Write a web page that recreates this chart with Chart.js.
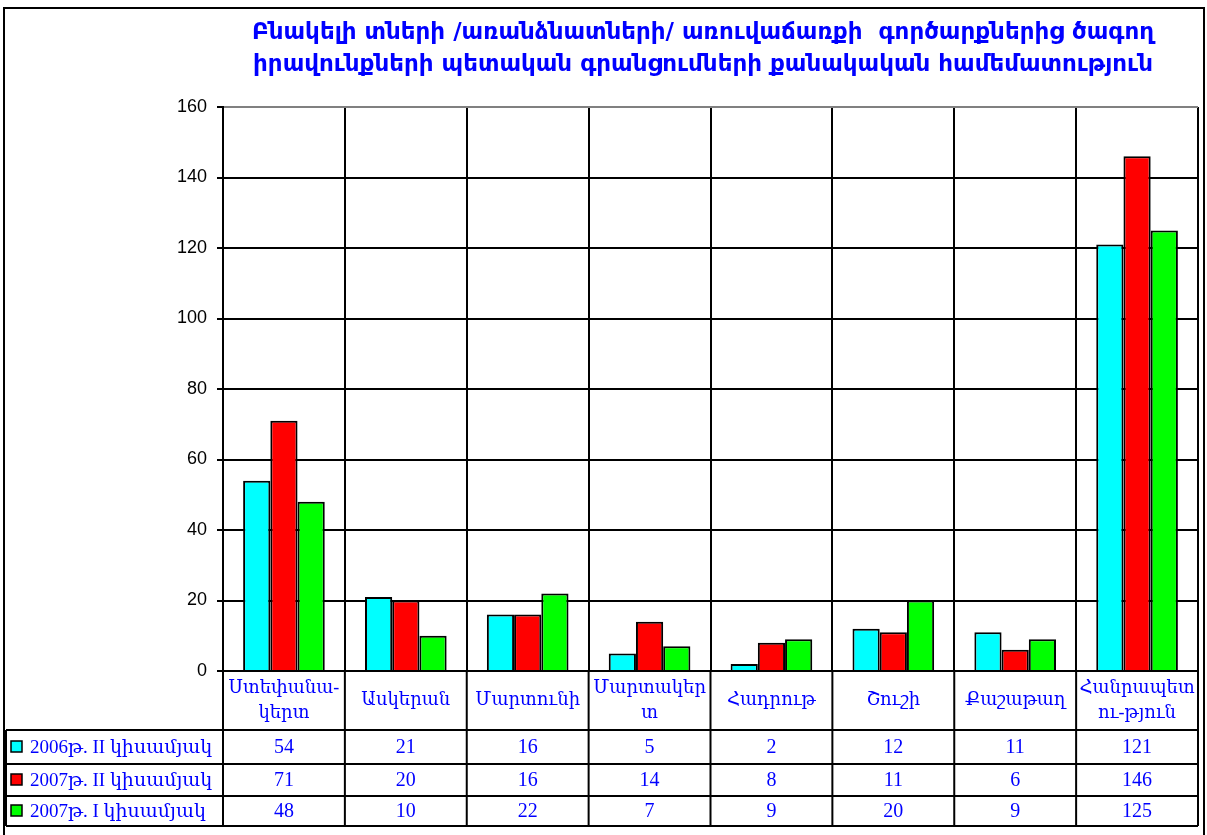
<!DOCTYPE html>
<html>
<head>
<meta charset="utf-8">
<script src="https://cdn.jsdelivr.net/npm/chart.js@4"></script>
<style>
  html, body { margin: 0; padding: 0; background: #fff; }
  canvas { display: block; }
</style>
</head>
<body>
<canvas id="chart" width="1207" height="835"></canvas>
<script>
const titleLines = [
  "Բնակելի տների /առանձնատների/ առուվաճառքի  գործարքներից ծագող",
  "իրավունքների պետական գրանցումների քանակական համեմատություն",
];
const categories = [
  ["Ստեփանա-", "կերտ"],
  ["Ասկերան"],
  ["Մարտունի"],
  ["Մարտակեր", "տ"],
  ["Հադրութ"],
  ["Շուշի"],
  ["Քաշաթաղ"],
  ["Հանրապետ", "ու-թյուն"],
];
const seriesNames = ["2006թ. II կիսամյակ", "2007թ. II կիսամյակ", "2007թ. I կիսամյակ"];
const seriesColors = ["#00ffff", "#ff0000", "#00ff00"];
const values2006II = [54, 21, 16, 5, 2, 12, 11, 121];
const values2007II = [71, 20, 16, 14, 8, 11, 6, 146];
const values2007I = [48, 10, 22, 7, 9, 20, 9, 125];
const yMax = 160;
const yStep = 20;

const blue = "#0000ff";
const serif = "'Liberation Serif', 'DejaVu Serif', serif";

// title, outer frame and the data table under the plot
const frameAndTable = {
  id: "frameAndTable",
  afterDraw(chart) {
    const ctx = chart.ctx;
    const area = chart.chartArea;
    const n = chart.data.labels.length;
    const colW = (area.right - area.left) / n;
    ctx.save();

    ctx.strokeStyle = "#000";
    ctx.lineWidth = 2;
    ctx.strokeRect(4, 8, 1200, 840);

    ctx.fillStyle = blue;
    ctx.font = "bold 23px 'DejaVu Sans'";
    ctx.textAlign = "center";
    ctx.textBaseline = "middle";
    titleLines.forEach((t, i) => ctx.fillText(t, 703, 33 + i * 32));

    const rowLines = [730, 764, 796, 826];
    ctx.beginPath();
    rowLines.forEach((y) => {
      ctx.moveTo(6, y);
      ctx.lineTo(area.right, y);
    });
    ctx.moveTo(6, rowLines[0]);
    ctx.lineTo(6, rowLines[3]);
    for (let i = 0; i <= n; i++) {
      const bx = area.left + i * colW;
      ctx.moveTo(bx, area.bottom);
      ctx.lineTo(bx, rowLines[3]);
    }
    ctx.stroke();

    // category header cells
    ctx.font = "18px " + serif;
    chart.data.labels.forEach((lines, i) => {
      const cx = area.left + (i + 0.5) * colW;
      const mid = (area.bottom + rowLines[0]) / 2;
      lines.forEach((line, j) => {
        const y = mid + (j - (lines.length - 1) / 2) * 25;
        ctx.fillText(line, cx, y);
      });
    });

    // series rows: legend key, name, values
    chart.data.datasets.forEach((ds, d) => {
      const top = rowLines[d];
      const bottom = rowLines[d + 1];
      const cy = (top + bottom) / 2;
      ctx.fillStyle = ds.backgroundColor;
      ctx.fillRect(11, cy - 6, 11, 11);
      ctx.lineWidth = 1.5;
      ctx.strokeRect(11, cy - 6, 11, 11);
      ctx.fillStyle = blue;
      ctx.font = "19px " + serif;
      ctx.textAlign = "left";
      ctx.fillText(ds.label, 30, cy + 1);
      ctx.font = "20px " + serif;
      ctx.textAlign = "center";
      ds.data.forEach((v, i) => {
        ctx.fillText(String(v), area.left + (i + 0.5) * colW, cy + 1);
      });
    });
    ctx.restore();
  },
};

new Chart(document.getElementById("chart"), {
  type: "bar",
  data: {
    labels: categories,
    datasets: [
      { label: seriesNames[0], data: values2006II, backgroundColor: seriesColors[0] },
      { label: seriesNames[1], data: values2007II, backgroundColor: seriesColors[1] },
      { label: seriesNames[2], data: values2007I, backgroundColor: seriesColors[2] },
    ].map((ds) => ({
      ...ds,
      borderColor: "#000",
      borderWidth: 2,
      borderSkipped: "start",
      categoryPercentage: 0.67,
      barPercentage: 1.0,
    })),
  },
  options: {
    responsive: false,
    animation: false,
    layout: { padding: { left: 0, right: 9, top: 107, bottom: 164 } },
    plugins: {
      legend: { display: false },
      title: { display: false },
      tooltip: { enabled: false },
    },
    scales: {
      x: {
        ticks: { display: false },
        grid: {
          offset: true,
          drawTicks: false,
          lineWidth: 2,
          color: (c) => (c.index === categories.length ? "#808080" : "#000"),
        },
        border: { display: true, color: "#000", width: 2 },
        afterFit: (s) => { s.height = 0; },
      },
      y: {
        min: 0,
        max: yMax,
        ticks: {
          stepSize: yStep,
          padding: 10,
          color: "#000",
          font: { family: "'Liberation Sans', Arial, sans-serif", size: 18 },
        },
        grid: {
          lineWidth: 2,
          tickLength: 6,
          tickColor: "#000",
          color: (c) => (c.tick && c.tick.value === yMax ? "#808080" : "#000"),
        },
        border: { display: true, color: "#000", width: 2 },
        afterFit: (s) => { s.width = 223; },
      },
    },
  },
  plugins: [frameAndTable],
});
</script>
</body>
</html>
